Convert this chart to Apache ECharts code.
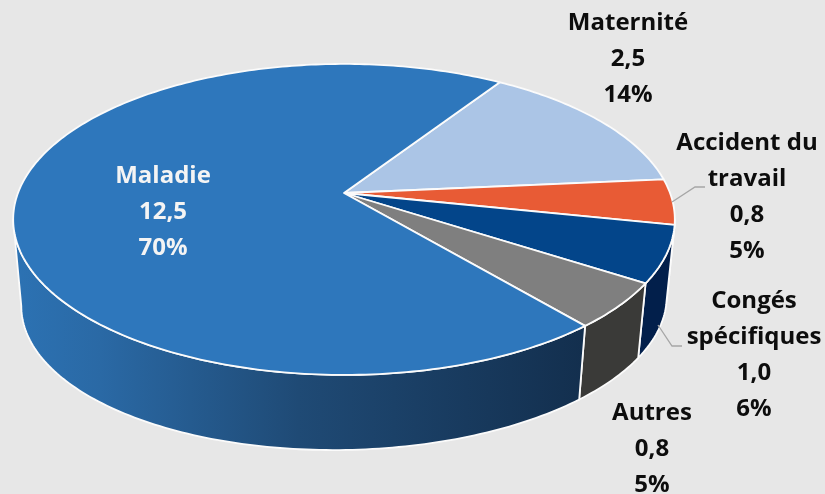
<!DOCTYPE html>
<html><head><meta charset="utf-8">
<style>html,body{margin:0;padding:0;background:#e7e7e7}#c{width:825px;height:494px}</style>
<script src="https://cdn.jsdelivr.net/npm/echarts@6/dist/echarts.min.js"></script>
</head><body><div id="c"></div>
<script>
const categories = ['Maternité', 'Accident du\ntravail', 'Congés\nspécifiques', 'Autres', 'Maladie'];
const values = [2.54, 0.84, 1.04, 0.84, 12.46];
const valueLabels = ['2,5', '0,8', '1,0', '0,8', '12,5'];
const percentLabels = ['14%', '5%', '6%', '5%', '70%'];

const topColors = ['#abc5e6', '#e85b35', '#03458a', '#7f7f7f', '#2e77bc'];
const wallColors = ['#6f87a6', '#021f4b', '#021f4b', '#3a3a38', null];
const labelColors = ['#0d0d0d', '#0d0d0d', '#0d0d0d', '#0d0d0d', '#f4f4f4'];
const labelCentres = [[628, 59], [747, 197], [754, 355], [652, 449], [163, 212]];
const leaderLines = [null, [[672, 202], [695, 187], [705, 187]], [[658, 325], [672, 346], [682, 346]], null, null];

const START_ANGLE = 33.1;
const TOP = {cx: 344, cy: 193, a: 326, b: 151, tilt: 0};
const BOTTOM = {cx: 344, cy: 276, a: 318, b: 144.4, tilt: 0.015};
const K = 0.17;
const VISIBLE_WALL = [99.8, 260.2];

const total = values.reduce((s, v) => s + v, 0);
const rad = d => d * Math.PI / 180;
function rim(disc, deg) {
  const u = Math.sin(rad(deg)), v = -Math.cos(rad(deg)), w = 1 - K * v;
  const dx = disc.a * u / w;
  return [disc.cx + dx, disc.cy + disc.b * v / w - disc.tilt * dx];
}
function arc(disc, from, to) {
  const pts = [], n = Math.max(2, Math.ceil(Math.abs(to - from)));
  for (let i = 0; i <= n; i++) pts.push(rim(disc, from + (to - from) * i / n));
  return pts;
}
function span(i) {
  let s = START_ANGLE;
  for (let j = 0; j < i; j++) s += values[j] / total * 360;
  return [s, s + values[i] / total * 360];
}
const mainWall = new echarts.graphic.LinearGradient(15, 0, 583, 0, [
  {offset: 0, color: '#2c72b3'},
  {offset: 0.15, color: '#2a69a5'},
  {offset: 0.5, color: '#1f4a75'},
  {offset: 1, color: '#132f4e'}
], true);

const data = categories.map((name, i) => ({name, value: values[i]}));

const option = {
  backgroundColor: '#e7e7e7',
  animation: false,
  tooltip: {show: false},
  series: [
    {
      type: 'custom', coordinateSystem: 'none', data, silent: true, z: 1,
      renderItem(params) {
        const i = params.dataIndex;
        const [a, b] = span(i);
        const from = Math.max(a, VISIBLE_WALL[0]);
        const to = Math.min(b, VISIBLE_WALL[1]);
        if (to <= from) return {type: 'group', children: []};
        const pts = arc(TOP, from, to).concat(arc(BOTTOM, to, from));
        return {
          type: 'polygon',
          shape: {points: pts},
          style: {fill: wallColors[i] || mainWall, stroke: '#fbfbfb', lineWidth: 1.8, lineJoin: 'round'}
        };
      }
    },
    {
      type: 'custom', coordinateSystem: 'none', data, silent: true, z: 2,
      renderItem(params) {
        const i = params.dataIndex;
        const [a, b] = span(i);
        const pts = [[TOP.cx, TOP.cy]].concat(arc(TOP, a, b));
        return {
          type: 'polygon',
          shape: {points: pts},
          style: {fill: topColors[i], stroke: '#fbfbfb', lineWidth: 1.8, lineJoin: 'round'}
        };
      }
    },
    {
      type: 'custom', coordinateSystem: 'none', data, silent: true, z: 3,
      renderItem(params) {
        const i = params.dataIndex;
        const c = labelCentres[i];
        const children = [{
          type: 'text',
          style: {
            x: c[0], y: c[1],
            text: categories[i] + '\n' + valueLabels[i] + '\n' + percentLabels[i],
            fill: labelColors[i],
            font: 'bold 24px "Open Sans"',
            lineHeight: 36,
            align: 'center', verticalAlign: 'middle'
          }
        }];
        if (leaderLines[i]) children.push({
          type: 'polyline',
          shape: {points: leaderLines[i]},
          style: {fill: 'none', stroke: '#a6a6a6', lineWidth: 1.3}
        });
        return {type: 'group', children};
      }
    }
  ]
};
echarts.init(document.getElementById('c'), null, {renderer: 'canvas'}).setOption(option);
</script></body></html>
